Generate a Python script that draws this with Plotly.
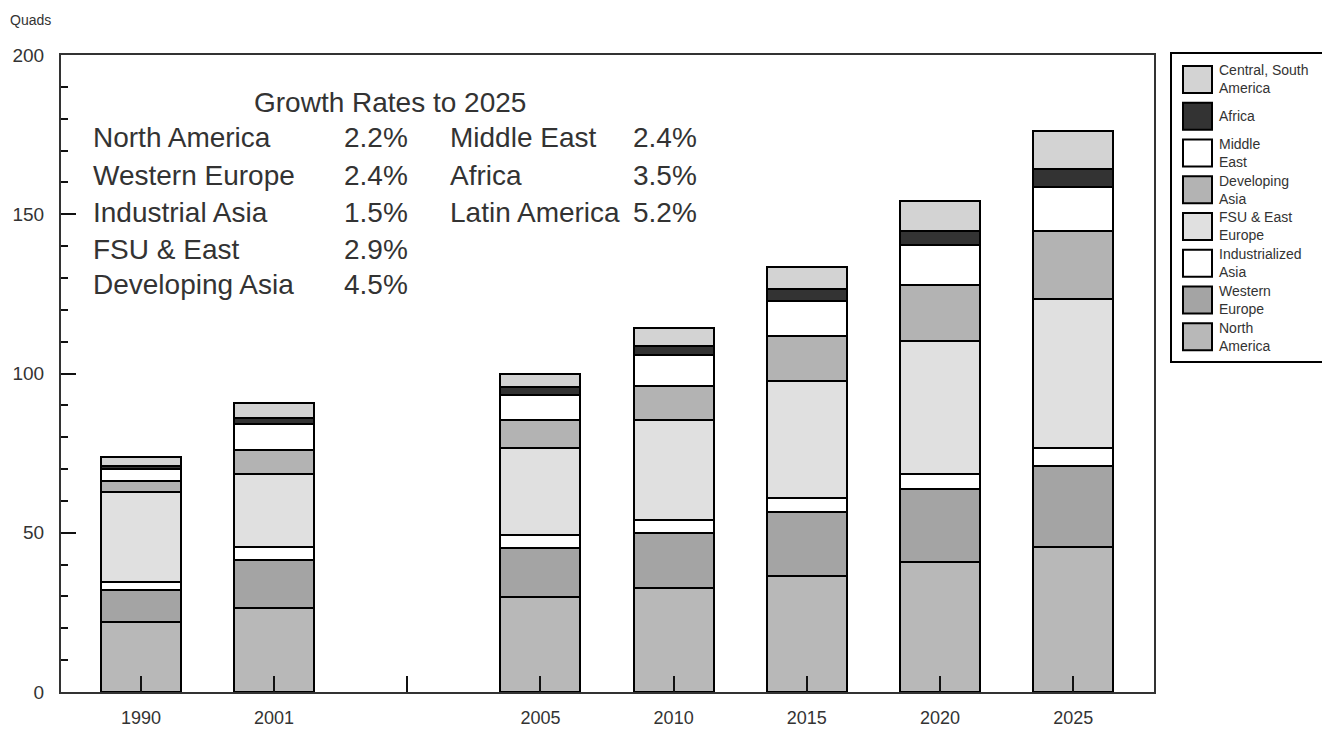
import plotly.graph_objects as go

# ---------------- data ----------------
tick_labels = ['1990', '2001', '', '2005', '2010', '2015', '2020', '2025']
tick_positions = [0, 1, 2, 3, 4, 5, 6, 7]
bar_positions = [0, 1, 3, 4, 5, 6, 7]

north_america = [22.0, 26.4, 29.7, 32.7, 36.5, 40.9, 45.4]
western_europe = [10.1, 15.1, 15.6, 17.1, 20.1, 22.7, 25.7]
industrialized_asia = [2.4, 3.9, 3.9, 4.3, 4.4, 5.0, 5.6]
fsu_east_europe = [28.4, 23.2, 27.5, 31.4, 36.5, 41.7, 46.6]
developing_asia = [3.2, 7.5, 8.8, 10.7, 14.4, 17.5, 21.4]
middle_east = [3.9, 8.2, 7.6, 9.5, 10.8, 12.5, 13.8]
africa = [1.1, 1.8, 2.6, 3.0, 3.7, 4.4, 5.7]
central_south_america = [2.6, 4.5, 4.3, 5.7, 7.0, 9.5, 11.8]

series_names = ['North<br>America', 'Western<br>Europe', 'Industrialized<br>Asia',
                'FSU & East<br>Europe', 'Developing<br>Asia', 'Middle<br>East',
                'Africa', 'Central, South<br>America']
series_values = [north_america, western_europe, industrialized_asia, fsu_east_europe,
                 developing_asia, middle_east, africa, central_south_america]
series_colors = ['#b8b8b8', '#a4a4a4', '#ffffff', '#e0e0e0',
                 '#b3b3b3', '#ffffff', '#333333', '#d3d3d3']

growth_title = 'Growth Rates to 2025'
growth_left_names = ['North America', 'Western Europe', 'Industrial Asia', 'FSU & East', 'Developing Asia']
growth_left_rates = ['2.2%', '2.4%', '1.5%', '2.9%', '4.5%']
growth_right_names = ['Middle East', 'Africa', 'Latin America']
growth_right_rates = ['2.4%', '3.5%', '5.2%']

# ---------------- geometry (page pixels; the page body adds an 8px offset) ----------------
OFF = 8
W, H = 1330 - OFF, 731 - OFF
# plot frame in page pixels
FL, FR, FT, FB = 61, 1154, 55, 692
PL, PR, PT, PB = FL - OFF, FR - OFF, FT - OFF, FB - OFF


def px(x):
    return (x - FL) / (FR - FL)


def py(y):
    return (FB - y) / (FB - FT)


FONT = 'Liberation Sans, Arial, sans-serif'
TXT = '#333333'

fig = go.Figure()
for name, vals, col in zip(series_names, series_values, series_colors):
    fig.add_trace(go.Bar(
        x=bar_positions, y=vals, name=name.replace('<br>', ' '),
        width=0.6,
        marker=dict(color=col, line=dict(color='#000000', width=2)),
        showlegend=False,
    ))

annotations = []
shapes = []

# y-axis title
annotations.append(dict(text='Quads', x=px(8), y=py(20), xref='paper', yref='paper',
                        xanchor='left', yanchor='middle', showarrow=False,
                        font=dict(family=FONT, size=14, color=TXT)))

# growth rate text block
gfont = dict(family=FONT, size=28, color=TXT)
annotations.append(dict(text=growth_title, x=px(390), y=py(102), xref='paper', yref='paper',
                        xanchor='center', yanchor='middle', showarrow=False, font=gfont,
                        borderpad=0))
row_y = [138, 175, 213, 249, 284]
for i, (n, r) in enumerate(zip(growth_left_names, growth_left_rates)):
    annotations.append(dict(text=n, x=px(92), y=py(row_y[i]), xref='paper', yref='paper',
                            xanchor='left', yanchor='middle', showarrow=False, font=gfont,
                            borderpad=0))
    annotations.append(dict(text=r, x=px(409), y=py(row_y[i]), xref='paper', yref='paper',
                            xanchor='right', yanchor='middle', showarrow=False, font=gfont,
                            borderpad=0))
for i, (n, r) in enumerate(zip(growth_right_names, growth_right_rates)):
    annotations.append(dict(text=n, x=px(449), y=py(row_y[i]), xref='paper', yref='paper',
                            xanchor='left', yanchor='middle', showarrow=False, font=gfont,
                            borderpad=0))
    annotations.append(dict(text=r, x=px(698), y=py(row_y[i]), xref='paper', yref='paper',
                            xanchor='right', yanchor='middle', showarrow=False, font=gfont,
                            borderpad=0))

# custom legend
shapes.append(dict(type='rect', xref='paper', yref='paper',
                   x0=px(1171), x1=px(1326), y0=py(53), y1=py(362),
                   line=dict(color='#000000', width=2), fillcolor='white', layer='above'))
order = list(range(len(series_names)))[::-1]
for k, idx in enumerate(order):
    cy = 79.5 + 36.74 * k
    shapes.append(dict(type='rect', xref='paper', yref='paper',
                       x0=px(1183), x1=px(1212), y0=py(cy - 13.5), y1=py(cy + 13.5),
                       line=dict(color='#000000', width=2), fillcolor=series_colors[idx],
                       layer='above'))
    annotations.append(dict(text=series_names[idx], x=px(1218), y=py(cy), xref='paper',
                            yref='paper', xanchor='left', yanchor='middle', align='left',
                            showarrow=False, borderpad=0,
                            font=dict(family=FONT, size=14, color=TXT)))

fig.update_layout(
    width=W, height=H,
    margin=dict(l=PL, r=W - PR, t=PT, b=H - PB, pad=0),
    barmode='stack',
    plot_bgcolor='white', paper_bgcolor='white',
    font=dict(family=FONT, color=TXT, size=18),
    annotations=annotations,
    shapes=shapes,
    showlegend=False,
    xaxis=dict(
        range=[-0.6, 7.607], tickmode='array', tickvals=tick_positions, ticktext=tick_labels,
        ticks='inside', ticklen=16, tickwidth=2, tickcolor='#111111',
        showline=True, linecolor='#333333', linewidth=2, mirror=True,
        showgrid=False, zeroline=False, ticklabelstandoff=8, automargin=False,
        tickfont=dict(family=FONT, size=18, color=TXT),
    ),
    yaxis=dict(
        range=[0, 200], tickmode='linear', tick0=0, dtick=50,
        ticks='inside', ticklen=15, tickwidth=2, tickcolor='#111111',
        minor=dict(dtick=10, ticks='inside', ticklen=7, tickwidth=1.5, tickcolor='#111111',
                   showgrid=False),
        showline=True, linecolor='#333333', linewidth=2, mirror=True,
        showgrid=False, zeroline=False, ticklabelstandoff=11, automargin=False,
        tickfont=dict(family=FONT, size=19, color=TXT),
    ),
)

fig.write_html('out.html')
